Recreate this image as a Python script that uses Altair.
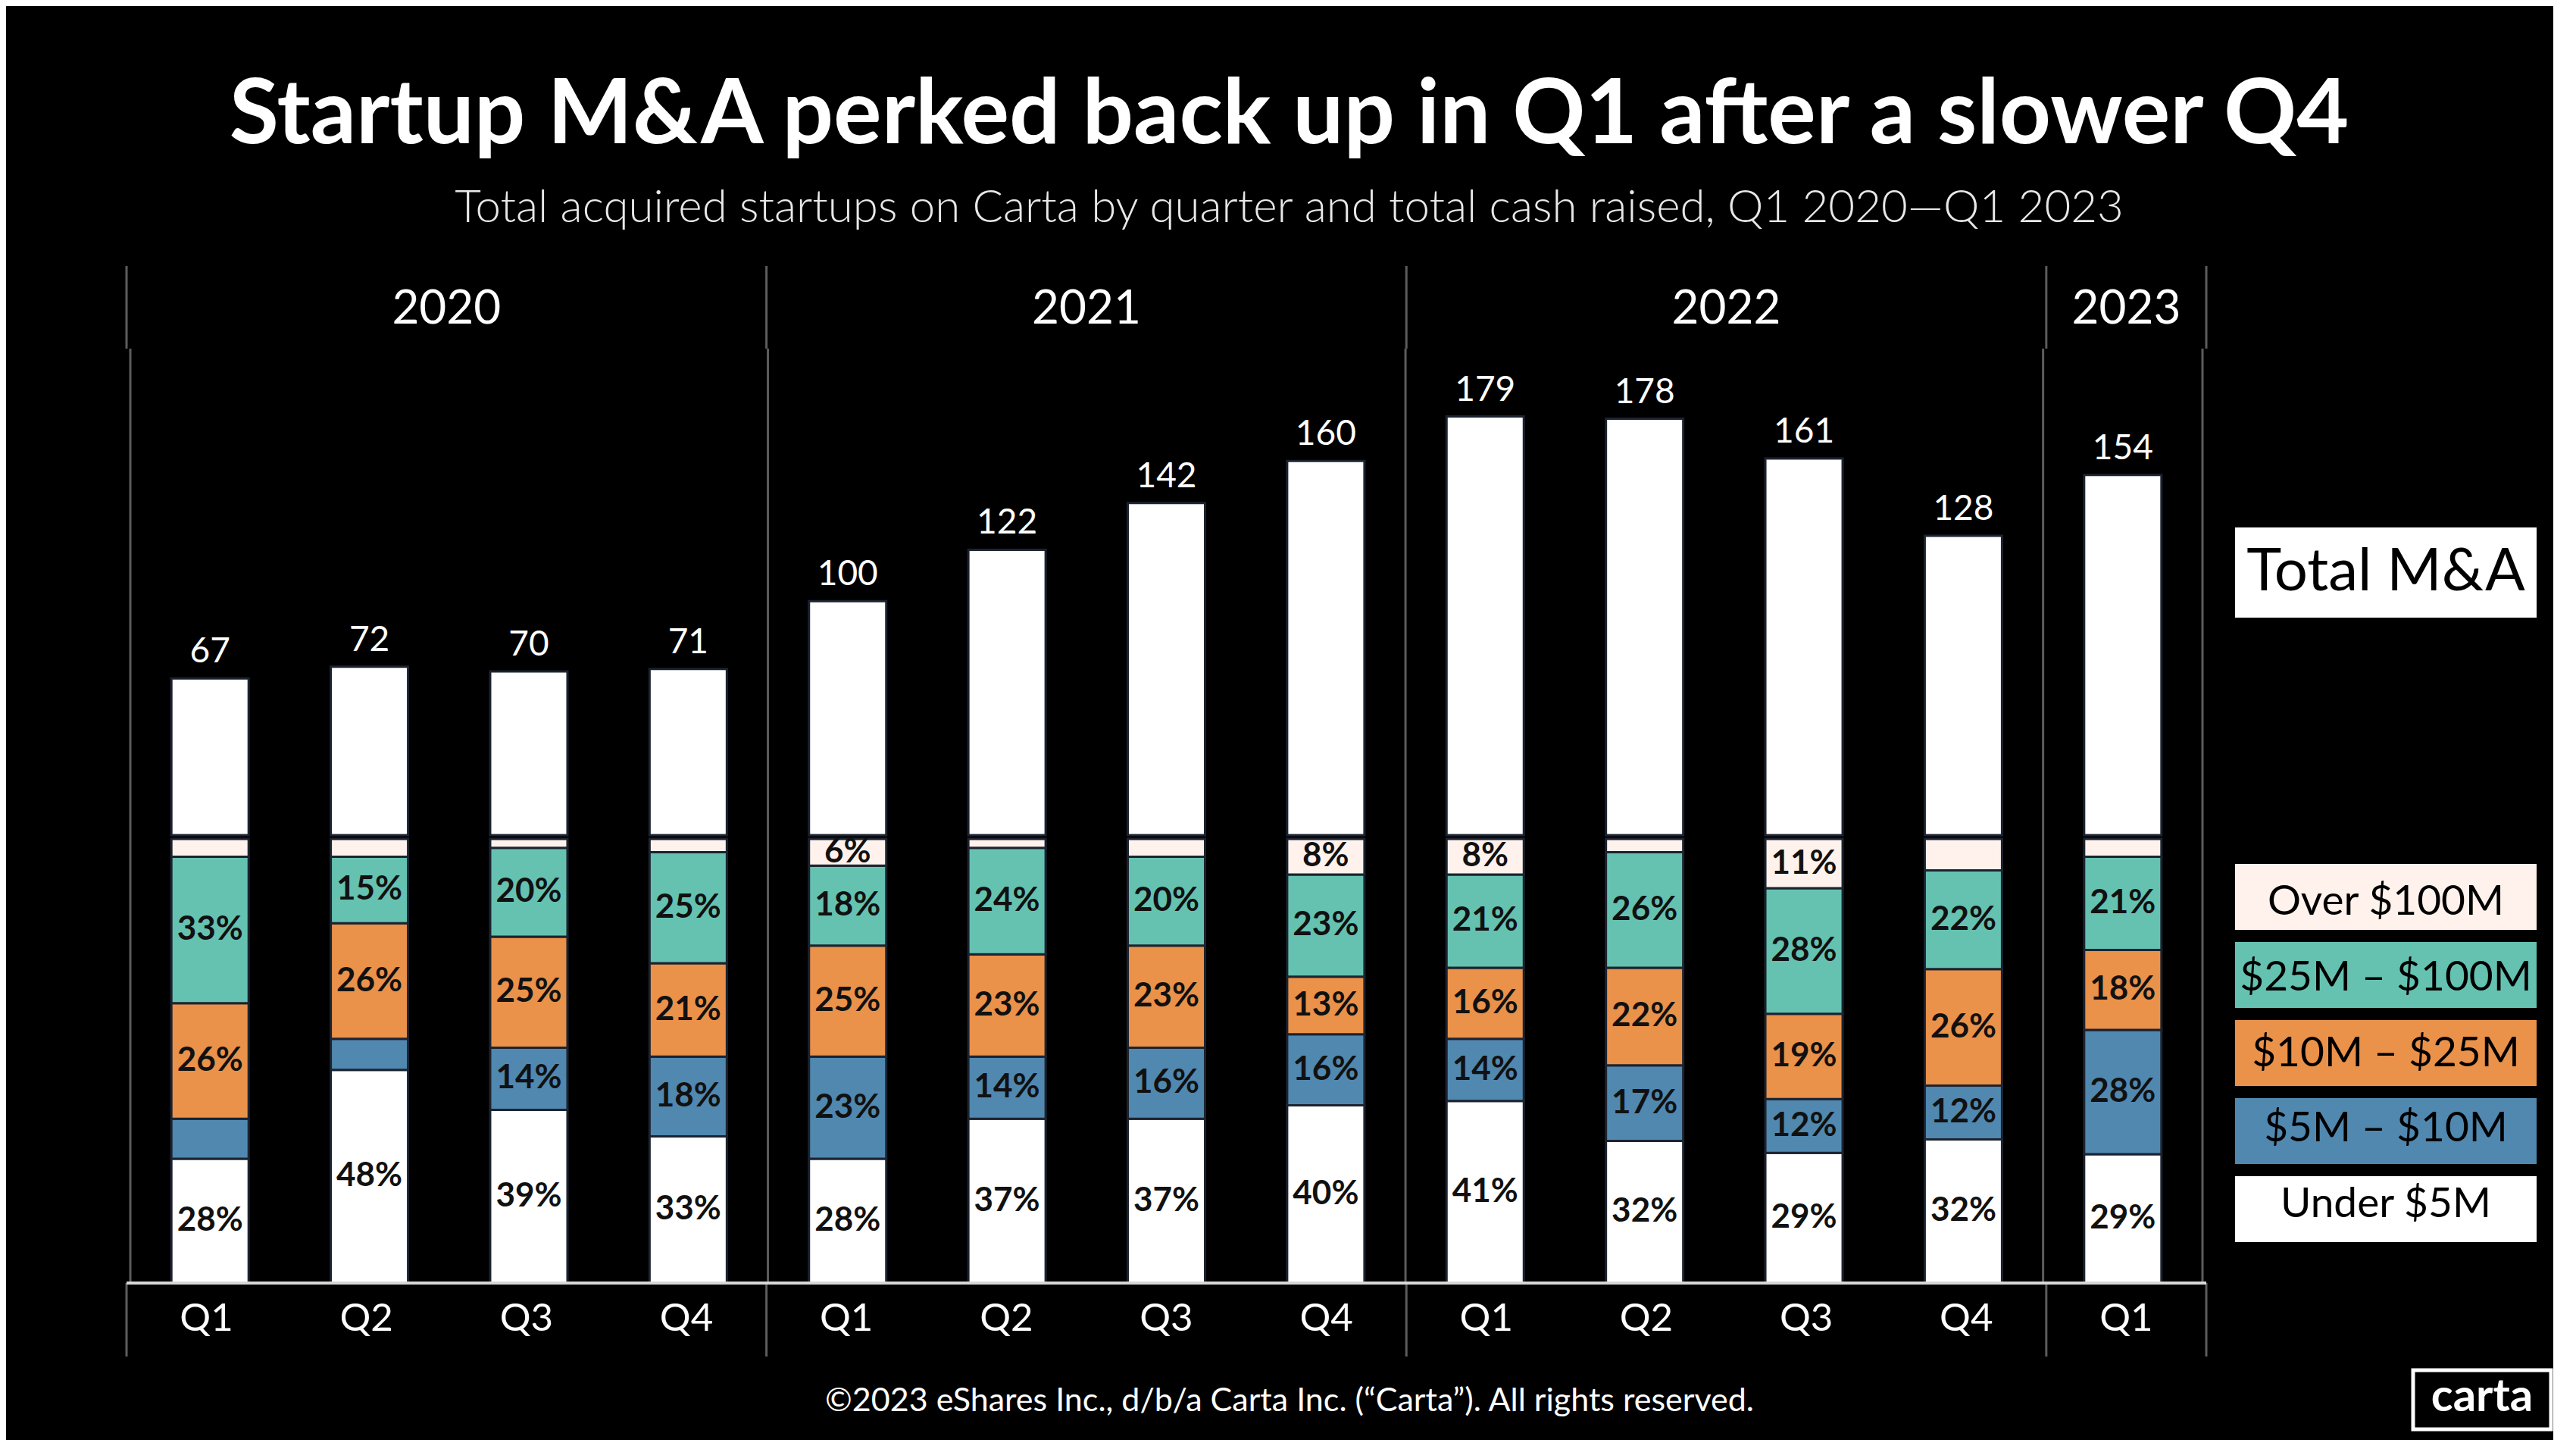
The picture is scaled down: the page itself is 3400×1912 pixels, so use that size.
import altair as alt
import pandas as pd

# ---------------- data ----------------
years = ["2020"] * 4 + ["2021"] * 4 + ["2022"] * 4 + ["2023"]
quarters = ["Q1", "Q2", "Q3", "Q4"] * 3 + ["Q1"]
totals = [67, 72, 70, 71, 100, 122, 142, 160, 179, 178, 161, 128, 154]

categories = ["Over $100M", "$25M – $100M", "$10M – $25M", "$5M – $10M", "Under $5M"]
cat_colors = ["#FFF2EC", "#65C2B1", "#EA914A", "#5088B0", "#FFFFFF"]

under_5m = [28, 48, 39, 33, 28, 37, 37, 40, 41, 32, 29, 32, 29]
m5_10 = [9, 7, 14, 18, 23, 14, 16, 16, 14, 17, 12, 12, 28]
m10_25 = [26, 26, 25, 21, 25, 23, 23, 13, 16, 22, 19, 26, 18]
m25_100 = [33, 15, 20, 25, 18, 24, 20, 23, 21, 26, 28, 22, 21]
over_100m = [4, 4, 2, 3, 6, 2, 4, 8, 8, 3, 11, 7, 4]

# which percentages carry a printed label in the original
under_5m_lab = [True] * 13
m5_10_lab = [False, False] + [True] * 11
m10_25_lab = [True] * 13
m25_100_lab = [True] * 13
over_100m_lab = [False, False, False, False, True, False, False, True, True, False, True, False, False]

title_text = "Startup M&A perked back up in Q1 after a slower Q4"
subtitle_text = "Total acquired startups on Carta by quarter and total cash raised, Q1 2020\u2014Q1 2023"
footer_text = "\u00a92023 eShares Inc., d/b/a Carta Inc. (\u201cCarta\u201d). All rights reserved."

# ---------------- tables ----------------
n = len(totals)
df_q = pd.DataFrame({"idx": list(range(n)), "year": years, "quarter": quarters, "total": totals})

series = [
    (categories[4], under_5m, under_5m_lab, 0),
    (categories[3], m5_10, m5_10_lab, 1),
    (categories[2], m10_25, m10_25_lab, 2),
    (categories[1], m25_100, m25_100_lab, 3),
    (categories[0], over_100m, over_100m_lab, 4),
]
rows = []
for cat, vals, labs, order in series:
    for i in range(n):
        rows.append({"idx": i, "cat": cat, "pct": vals[i], "show": labs[i], "order": order,
                     "label": f"{vals[i]}%"})
df_seg = pd.DataFrame(rows)

bounds = sorted({i - 0.5 for i in range(n) if i == 0 or years[i - 1] != years[i]} | {n - 0.5})
df_div = pd.DataFrame({"b": bounds})

# ---------------- layout constants ----------------
W = 2745          # plot area width
GAP = 38          # plot -> legend
LEG_W = 398
W_ROW = W + GAP + LEG_W
H_HEAD = 109
H_TOP = 647
H_BOT = 586
H_AX = 97
FONT = "Lato"
DIV_COLOR = "#5c5c5c"

xscale = alt.Scale(domain=[-0.5, n - 0.5], range=[0, W], nice=False, zero=False)
color_scale = alt.Scale(domain=categories, range=cat_colors)


def dividers(h):
    return alt.Chart(df_div).mark_rule(color=DIV_COLOR, strokeWidth=3).encode(
        x=alt.X("b:Q", scale=xscale, axis=None),
        y=alt.value(0),
        y2=alt.value(h),
    )


# header with years
year_text = alt.Chart(df_q).transform_aggregate(
    center="mean(idx)", groupby=["year"]
).mark_text(font=FONT, fontSize=62, color="white", baseline="middle").encode(
    x=alt.X("center:Q", scale=xscale, axis=None),
    y=alt.value(57),
    text="year:N",
)
header = alt.layer(dividers(H_HEAD), year_text).properties(width=W, height=H_HEAD)

# top: total bars + "Total M&A" key
ytop = alt.Scale(domain=[0, 208], range=[642, 0], nice=False)
top_bars = alt.Chart(df_q).mark_bar(
    width=102, color="white", stroke="#1c2330", strokeWidth=3
).encode(
    x=alt.X("idx:Q", scale=xscale, axis=None),
    y=alt.Y("total:Q", scale=ytop, axis=None),
)
top_labels = alt.Chart(df_q).mark_text(
    font=FONT, fontSize=46, color="white", baseline="alphabetic", dy=-21
).encode(
    x=alt.X("idx:Q", scale=xscale, axis=None),
    y=alt.Y("total:Q", scale=ytop, axis=None),
    text="total:Q",
)
leg_top_df = pd.DataFrame({"label": ["Total M&A"]})
leg_top_scale = alt.Scale(domain=["Total M&A"], range=[236, 355], paddingInner=0, paddingOuter=0)
leg_top_rect = alt.Chart(leg_top_df).mark_rect(color="white").encode(
    x=alt.value(W + GAP), x2=alt.value(W_ROW),
    y=alt.Y("label:N", scale=leg_top_scale, axis=None),
)
leg_top_text = alt.Chart(leg_top_df).mark_text(
    font=FONT, fontSize=78, color="black", baseline="middle"
).encode(
    x=alt.value(W + GAP + LEG_W / 2),
    y=alt.Y("label:N", scale=leg_top_scale, axis=None, bandPosition=0.5),
    text="label:N",
)
top_row = alt.layer(
    dividers(H_TOP), top_bars, top_labels, leg_top_rect, leg_top_text
).resolve_scale(y="independent").properties(width=W_ROW, height=H_TOP)

# bottom: 100% stacked composition + range key
seg_base = alt.Chart(df_seg).transform_stack(
    stack="pct", groupby=["idx"], as_=["y0", "y1"],
    sort=[alt.SortField("order", order="ascending")], offset="normalize",
).transform_calculate(mid="(datum.y0 + datum.y1) / 2")
yscale_bot = alt.Scale(domain=[0, 1], nice=False)
seg_bars = seg_base.mark_bar(width=102, stroke="#1c2330", strokeWidth=3).encode(
    x=alt.X("idx:Q", scale=xscale, axis=None),
    y=alt.Y("y0:Q", scale=yscale_bot, axis=None),
    y2="y1:Q",
    color=alt.Color("cat:N", scale=color_scale, legend=None),
)
seg_text = seg_base.transform_filter("datum.show").mark_text(
    font=FONT, fontSize=44, fontWeight="bold", color="#111111", baseline="middle"
).encode(
    x=alt.X("idx:Q", scale=xscale, axis=None),
    y=alt.Y("mid:Q", scale=yscale_bot, axis=None),
    text="label:N",
)
leg_df = pd.DataFrame({"cat": categories})
leg_scale = alt.Scale(domain=categories, range=[33, 532], paddingInner=0.155, paddingOuter=0)
leg_rect = alt.Chart(leg_df).mark_rect().encode(
    x=alt.value(W + GAP), x2=alt.value(W_ROW),
    y=alt.Y("cat:N", scale=leg_scale, axis=None, sort=categories),
    color=alt.Color("cat:N", scale=color_scale, legend=None),
)
leg_text = alt.Chart(leg_df).mark_text(
    font=FONT, fontSize=55, color="black", baseline="middle"
).encode(
    x=alt.value(W + GAP + LEG_W / 2),
    y=alt.Y("cat:N", scale=leg_scale, axis=None, sort=categories, bandPosition=0.5),
    text="cat:N",
)
bot_row = alt.layer(
    dividers(H_BOT), seg_bars, seg_text, leg_rect, leg_text
).resolve_scale(y="independent").properties(width=W_ROW, height=H_BOT)

# axis row: baseline + quarter labels
base_line = alt.Chart(df_q).mark_rule(color="#d8d8d8", strokeWidth=3).encode(
    x=alt.value(0), x2=alt.value(W), y=alt.value(0)
)
q_text = alt.Chart(df_q).mark_text(font=FONT, fontSize=51, color="white", baseline="middle").encode(
    x=alt.X("idx:Q", scale=xscale, axis=None),
    y=alt.value(48),
    text="quarter:N",
)
axis_row = alt.layer(dividers(H_AX), base_line, q_text).properties(width=W, height=H_AX)

# footer
FOOT_W = 3202
foot_df = pd.DataFrame({"t": [footer_text], "logo": ["carta"]})
footer = alt.layer(
    alt.Chart(foot_df).mark_text(font=FONT, fontSize=43, color="white", baseline="middle").encode(
        x=alt.value(1535), y=alt.value(59), text="t:N"
    ),
    alt.Chart(foot_df).mark_rect(fill="black", stroke="white", strokeWidth=5).encode(
        x=alt.value(3018), x2=alt.value(3200), y=alt.value(18), y2=alt.value(96)
    ),
    alt.Chart(foot_df).mark_text(font=FONT, fontSize=60, fontWeight="bold", color="white",
                                 baseline="middle").encode(
        x=alt.value(3109), y=alt.value(54), text="logo:N"
    ),
).properties(width=FOOT_W, height=110)

chart = alt.vconcat(header, top_row, bot_row, axis_row, footer, spacing=0, bounds="flush").properties(
    title=alt.TitleParams(
        text=title_text,
        subtitle=subtitle_text,
        anchor="middle",
        dx=-66,
        font=FONT,
        fontSize=119,
        fontWeight="bold",
        color="white",
        subtitleFont=FONT,
        subtitleFontSize=60,
        subtitleFontWeight=300,
        subtitleColor="#e8e8e8",
        subtitlePadding=32,
        offset=44,
    ),
    padding={"left": 157, "top": 85, "right": 0, "bottom": 0},
    background="black",
).configure_view(stroke=None).configure_concat(spacing=0)

chart.save("out.html", embed_options={"renderer": "svg", "actions": False})
